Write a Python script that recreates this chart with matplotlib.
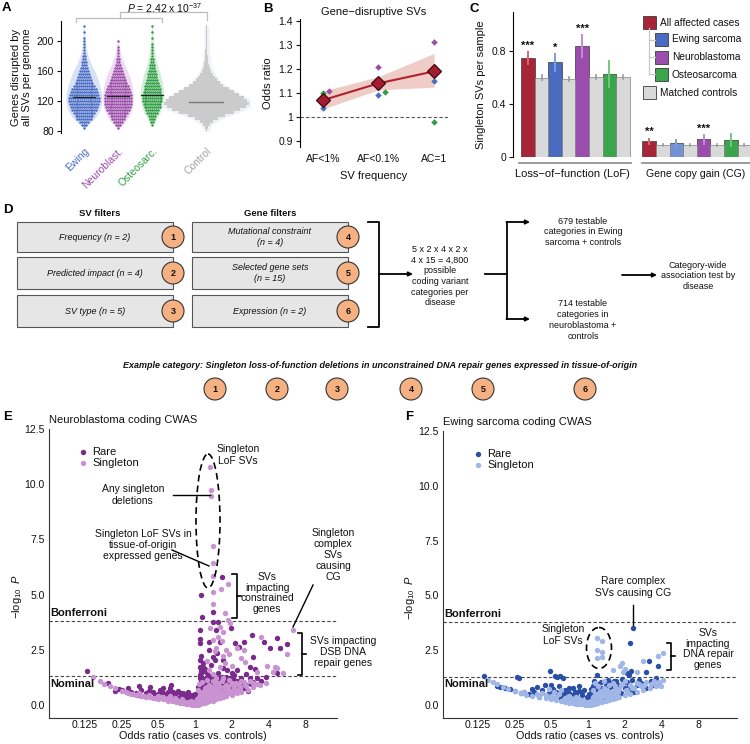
import numpy as np
import matplotlib
matplotlib.use('Agg')
import matplotlib.pyplot as plt
from matplotlib.patches import Rectangle, Circle, Ellipse

plt.rcParams['font.family'] = ['Liberation Sans', 'DejaVu Sans']
plt.rcParams['mathtext.fontset'] = 'custom'
plt.rcParams['mathtext.rm'] = 'Liberation Sans'
plt.rcParams['mathtext.it'] = 'Liberation Sans:italic'
plt.rcParams['mathtext.bf'] = 'Liberation Sans:bold'
plt.rcParams['axes.linewidth'] = 0.8

# ---------------- DATA ----------------
# Panel A: genes disrupted per genome (binned counts of samples, bins of 4)
a_groups = ['Ewing', 'Neuroblast.', 'Osteosarc.', 'Control']
a_medians = [125, 126, 128, 118]
ewing_bin_start = 84
ewing_counts = [1, 3, 5, 8, 10, 12, 14, 15, 16, 17, 17, 16, 15, 14, 12, 10, 8, 7, 6, 5,
                4, 3, 3, 2, 2, 1, 1, 1, 1, 1, 1, 0, 1, 0, 1]
nb_bin_start = 84
nb_counts = [1, 3, 5, 7, 9, 11, 13, 14, 15, 15, 15, 15, 14, 13, 12, 10, 9, 7, 6, 5,
             4, 3, 2, 2, 1, 1, 1, 1, 0, 1]
os_bin_start = 88
os_counts = [1, 2, 3, 4, 6, 7, 9, 10, 11, 11, 11, 10, 9, 8, 7, 6, 5, 5, 4, 3, 3, 2,
             2, 1, 1, 1, 1, 1, 0, 1, 0, 1, 0, 1]
ctrl_bin_start = 80
ctrl_halfwidth = [0.02, 0.05, 0.1, 0.2, 0.35, 0.55, 0.8, 1.0, 1.15, 1.25, 1.2, 1.1, 0.95,
                  0.8, 0.65, 0.5, 0.4, 0.3, 0.24, 0.18, 0.14, 0.1, 0.08, 0.06, 0.05, 0.04,
                  0.03, 0.03, 0.02, 0.02, 0.02, 0.015, 0.015, 0.01, 0.01, 0.01]
# violin outlines (value, half-width)
ewing_vy = [84, 90, 100, 110, 120, 128, 140, 150, 160, 170, 180, 190, 200, 210, 220]
ewing_vw = [0.02, 0.17, 0.38, 0.49, 0.53, 0.53, 0.47, 0.40, 0.32, 0.20, 0.12, 0.07, 0.04, 0.02, 0.01]
nb_vy = [84, 90, 100, 110, 120, 128, 140, 150, 160, 170, 180, 190, 200]
nb_vw = [0.03, 0.17, 0.33, 0.42, 0.45, 0.45, 0.42, 0.36, 0.28, 0.18, 0.10, 0.05, 0.02]
os_vy = [88, 95, 105, 115, 125, 135, 145, 155, 165, 175, 185, 195, 205, 215, 222]
os_vw = [0.03, 0.12, 0.24, 0.32, 0.35, 0.34, 0.30, 0.25, 0.18, 0.12, 0.08, 0.05, 0.03, 0.02, 0.01]

# Panel B
b_labels = ['AF<1%', 'AF<0.1%', 'AC=1']
b_all = [1.07, 1.14, 1.19]
b_lo = [1.033, 1.113, 1.124]
b_hi = [1.108, 1.168, 1.265]
b_ewing = [1.036, 1.091, 1.148]
b_nb = [1.108, 1.207, 1.312]
b_os = [1.100, 1.102, 0.979]

# Panel C
c_groups = ['All affected cases', 'Ewing sarcoma', 'Neuroblastoma', 'Osteosarcoma']
c_lof_case = [0.750, 0.717, 0.835, 0.629]
c_lof_case_lo = [0.704, 0.652, 0.755, 0.528]
c_lof_case_hi = [0.792, 0.775, 0.918, 0.725]
c_lof_ctrl = [0.599, 0.591, 0.604, 0.604]
c_lof_ctrl_err = [0.018, 0.015, 0.015, 0.018]
c_cg_case = [0.121, 0.106, 0.136, 0.131]
c_cg_case_lo = [0.100, 0.075, 0.100, 0.083]
c_cg_case_hi = [0.138, 0.130, 0.163, 0.176]
c_cg_ctrl = [0.093, 0.088, 0.090, 0.093]
c_cg_ctrl_err = [0.008, 0.008, 0.008, 0.008]
c_lof_stars = ['***', '*', '***', '']
c_cg_stars = ['**', '', '***', '']

# Panel E: neuroblastoma CWAS (odds ratio, -log10 P)
e_rare_or = [1.13, 1.65, 1.41, 1.15, 1.41, 1.55, 1.09, 1.50, 1.97, 1.10, 1.60, 1.30, 1.10, 2.13, 2.50,
             2.92, 4.10, 4.68, 5.65, 5.00, 3.68, 2.30, 3.00, 2.83, 3.10, 4.73, 1.10, 1.17, 1.10, 1.17,
             1.12, 1.25, 1.10, 1.41, 1.51, 1.45, 1.35, 1.69, 1.69, 1.82, 2.00, 2.20, 1.12, 1.13, 1.20,
             1.55, 1.30, 2.10, 2.60, 0.13, 1.12, 1.16, 1.11,
             0.195, 0.28, 0.25, 0.35, 0.43, 0.52, 0.64, 0.62, 0.45, 0.40, 0.50, 0.55, 0.58, 0.68, 0.70,
             0.75, 0.78, 0.82, 0.85, 0.88, 0.90, 0.92, 0.95, 1.05, 1.08, 1.10, 1.12, 1.15, 1.18, 1.20,
             1.22, 1.25, 1.28, 1.30, 1.32, 1.35, 1.38, 1.40, 1.45, 1.50, 1.55, 1.60, 1.65, 1.70, 1.75,
             1.80, 1.90, 2.00, 2.10, 2.20, 2.40, 2.60, 2.80, 3.00, 3.50, 0.30, 0.33, 0.24, 0.22, 0.36,
             0.60, 0.72, 0.80, 0.86, 0.97, 1.02, 1.04, 1.06, 1.10, 1.13, 1.16, 1.20, 1.24, 1.26, 1.30,
             1.34, 1.42, 1.48, 1.52, 1.58, 1.62, 1.68, 1.72, 1.85, 1.95, 2.05, 2.30, 2.50, 2.70, 1.12,
             1.15, 1.25, 1.35, 1.38, 1.55, 1.65, 1.95, 2.20, 0.47, 0.65, 0.90,
             1.05, 1.10, 1.15, 1.20, 1.30, 1.40, 1.45, 1.50, 1.60, 1.70, 1.80, 2.00, 2.20, 2.40, 2.90,
             3.20, 3.80, 0.35, 0.42, 0.55, 0.66, 0.75, 0.80, 0.88, 0.95, 1.00, 1.00, 1.08, 1.12, 1.18]
e_rare_p = [4.98, 5.78, 4.22, 3.97, 3.76, 3.74, 3.39, 3.39, 3.50, 2.97, 2.87, 2.85, 2.80, 2.80, 2.85,
            3.17, 2.56, 3.05, 2.75, 2.56, 2.85, 2.61, 2.18, 1.73, 1.61, 1.43, 2.04, 1.89, 1.73, 1.73,
            1.59, 1.43, 1.36, 2.19, 2.34, 2.04, 1.80, 2.04, 1.66, 1.59, 1.43, 1.59, 2.20, 1.50, 1.62,
            1.45, 2.50, 1.35, 1.40, 1.52, 1.65, 1.55, 1.45,
            0.98, 0.75, 0.68, 0.86, 0.83, 0.68, 0.91, 0.75, 0.60, 0.55, 0.50, 0.55, 0.45, 0.50, 0.35,
            0.30, 0.45, 0.25, 0.35, 0.20, 0.40, 0.15, 0.25, 0.30, 0.60, 0.90, 1.10, 0.75, 1.00, 0.45,
            1.20, 0.60, 0.90, 1.15, 0.70, 1.00, 0.50, 0.85, 1.20, 1.05, 0.80, 1.20, 0.95, 1.10, 0.75,
            1.25, 1.00, 0.85, 1.15, 0.95, 1.20, 0.90, 1.20, 1.05, 1.10, 0.60, 0.52, 0.72, 0.62, 0.70,
            0.60, 0.62, 0.55, 0.50, 0.10, 0.05, 0.15, 0.45, 0.35, 0.55, 0.40, 0.80, 0.95, 0.30, 0.50,
            0.45, 0.60, 0.70, 0.55, 0.65, 0.85, 0.60, 0.90, 0.70, 0.80, 0.60, 0.70, 0.75, 0.65, 1.25,
            1.20, 1.10, 1.25, 1.05, 1.15, 1.25, 1.20, 1.10, 0.45, 0.40, 0.30,
            0.80, 1.20, 0.90, 1.10, 1.30, 1.00, 0.65, 0.90, 0.60, 0.80, 1.05, 1.20, 0.80, 1.00, 0.95,
            1.20, 1.25, 0.45, 0.65, 0.75, 0.60, 0.55, 0.35, 0.60, 0.45, 0.25, 0.50, 0.25, 0.65, 0.55]
e_sing_or = [1.33, 1.36, 1.36, 1.40, 1.41, 1.40, 1.88, 1.41, 1.62, 1.41, 1.76, 1.88, 1.92, 1.33, 1.69,
             1.40, 1.65, 2.50, 3.50, 6.40, 5.65, 2.40, 2.57, 3.87, 4.53, 4.70, 1.60, 1.50, 1.45, 1.80,
             2.20, 5.30, 4.40, 1.60, 1.55, 1.25, 1.30, 1.40, 1.75, 2.00, 1.90, 1.70, 3.20,
             0.147, 0.165, 0.18, 0.20, 0.22, 0.25, 0.28, 0.30, 0.33, 0.36, 0.40, 0.43, 0.47, 0.50, 0.55,
             0.60, 0.65, 0.70, 0.75, 0.80, 0.85, 0.90, 0.95, 1.00, 1.05, 1.10, 1.15, 1.20, 1.25, 1.30,
             1.40, 1.50, 1.60, 1.70, 1.80, 2.00, 2.20, 2.40, 2.70, 3.00, 3.40, 3.80,
             0.35, 0.42, 0.50, 0.55, 0.60, 0.70, 0.80, 0.85, 0.90, 0.95, 1.05, 1.10, 1.15, 1.20, 1.25,
             1.30, 1.35, 1.40, 1.45, 1.50, 1.55, 1.60, 1.70, 1.80, 1.90, 2.00, 2.10, 2.30, 2.50, 2.80,
             1.20, 1.10, 1.30, 1.40, 1.25, 0.75, 0.65, 0.45, 0.38, 0.27, 0.31, 0.97, 1.02, 1.07, 1.12,
             1.18, 1.22, 1.28, 1.33, 1.37, 1.45, 1.52, 1.58, 1.65, 1.75, 1.85, 1.95, 2.10, 2.25, 2.60,
             3.20, 1.15, 1.20, 1.35, 1.45, 1.55, 1.65, 1.50, 1.70, 1.90, 2.40, 1.05, 1.08, 1.15, 1.25,
             0.50, 0.58, 0.62, 0.68, 0.72, 0.78, 0.82, 0.88, 0.92, 0.98, 1.03, 1.08, 1.12, 1.18, 1.22,
             1.28, 1.32, 1.38, 1.42, 1.48, 1.58, 1.62, 1.72, 1.78, 1.88, 2.05, 2.15, 2.35, 2.55, 3.00]
e_sing_p = [10.8, 9.73, 9.46, 7.22, 6.41, 5.86, 5.46, 5.13, 5.25, 4.56, 4.15, 3.85, 3.70, 3.47, 3.30,
            2.95, 2.90, 2.50, 3.10, 3.39, 2.31, 2.11, 1.96, 1.75, 1.72, 1.68, 1.73, 2.60, 2.45, 2.50,
            2.60, 1.45, 1.50, 3.55, 3.10, 2.00, 1.60, 1.40, 1.90, 1.75, 2.30, 2.20, 1.50,
            1.25, 1.10, 0.95, 0.85, 0.75, 0.62, 0.55, 0.50, 0.45, 0.42, 0.38, 0.35, 0.30, 0.28, 0.25,
            0.20, 0.16, 0.12, 0.09, 0.07, 0.05, 0.03, 0.01, 0.00, 0.02, 0.04, 0.08, 0.10, 0.13, 0.16,
            0.20, 0.25, 0.30, 0.35, 0.40, 0.45, 0.55, 0.60, 0.70, 0.80, 0.90, 1.00,
            0.55, 0.45, 0.40, 0.35, 0.32, 0.25, 0.20, 0.15, 0.12, 0.10, 0.12, 0.20, 0.30, 0.25, 0.40,
            0.50, 0.35, 0.60, 0.45, 0.70, 0.55, 0.80, 0.60, 0.90, 0.70, 1.00, 0.80, 0.90, 1.05, 1.10,
            0.60, 0.50, 0.90, 1.10, 0.80, 0.15, 0.22, 0.33, 0.40, 0.58, 0.48, 0.05, 0.08, 0.15, 0.10,
            0.18, 0.20, 0.25, 0.28, 0.22, 0.30, 0.35, 0.40, 0.45, 0.50, 0.55, 0.60, 0.65, 0.70, 0.85,
            0.95, 0.60, 0.75, 0.70, 0.90, 1.00, 1.10, 1.20, 1.20, 1.15, 1.10, 0.70, 0.95, 1.05, 1.15,
            0.33, 0.28, 0.40, 0.30, 0.20, 0.25, 0.12, 0.08, 0.18, 0.15, 0.25, 0.35, 0.45, 0.40, 0.55,
            0.65, 0.60, 0.80, 0.75, 1.00, 0.75, 0.60, 0.80, 0.70, 0.85, 0.90, 1.00, 0.75, 0.90, 1.00]

# Panel F: Ewing sarcoma CWAS
f_rare_or = [2.35, 2.21, 3.77, 3.18, 3.00, 2.24, 1.18, 0.49, 0.54, 0.59, 0.26, 0.27, 0.139, 2.10, 2.15,
             0.18, 0.19, 0.21, 0.23, 0.38, 0.30, 0.33, 0.42, 0.45, 0.50, 0.52, 0.55, 0.58, 0.62, 0.65,
             0.70, 0.72, 0.75, 0.80, 0.82, 0.85, 0.88, 0.90, 0.95, 1.00, 1.05, 1.08, 1.10, 1.12, 1.15,
             1.20, 1.22, 1.25, 1.28, 1.30, 1.35, 1.40, 1.45, 1.50, 1.55, 1.60, 1.70, 1.75, 1.80, 1.90,
             2.00, 2.10, 2.20, 2.30, 2.50, 2.70, 3.00, 3.30, 3.60, 3.80, 0.25, 0.28, 0.36, 0.48, 0.60,
             0.68, 0.78, 0.92, 1.02, 1.18, 1.32, 1.48, 1.65, 1.85, 2.40, 0.40, 0.56, 0.62,
             0.35, 0.44, 0.50, 0.57, 0.64, 0.70, 0.76, 0.84, 0.90, 0.98, 1.05, 1.10, 1.15, 1.25, 1.38,
             1.42, 1.52, 1.62, 1.72, 1.95, 2.15, 2.60, 2.90, 3.40]
f_rare_p = [3.50, 2.84, 1.77, 1.99, 1.51, 1.55, 1.36, 1.54, 1.33, 1.33, 1.30, 1.25, 1.31, 1.45, 1.38,
            0.86, 0.82, 0.78, 0.72, 0.83, 0.60, 0.50, 0.70, 0.45, 0.90, 0.75, 0.60, 0.85, 0.45, 0.70,
            0.55, 0.35, 0.80, 0.50, 0.30, 0.65, 0.20, 0.45, 0.15, 0.10, 0.30, 0.55, 0.85, 1.10, 0.70,
            0.95, 0.40, 0.60, 1.05, 0.80, 0.50, 0.90, 1.15, 0.70, 1.00, 0.85, 1.10, 0.60, 0.90, 1.20,
            0.80, 1.05, 0.70, 1.15, 0.90, 1.00, 0.80, 1.10, 1.25, 0.95, 0.65, 0.55, 0.60, 0.55, 0.30,
            0.25, 0.60, 0.70, 0.50, 0.25, 0.35, 0.45, 0.50, 0.55, 0.60, 0.35, 1.30, 1.25,
            0.75, 0.90, 0.65, 0.40, 0.55, 0.80, 0.45, 0.85, 0.60, 0.35, 0.75, 0.45, 0.95, 0.80, 0.65,
            1.00, 0.85, 1.10, 0.75, 1.00, 0.90, 1.15, 0.95, 0.90]
f_sing_or = [1.18, 1.31, 1.18, 1.31, 1.18, 1.30, 3.77, 4.10, 2.84, 1.89, 1.83, 1.60, 2.00, 2.50, 1.95,
             0.152, 0.165, 0.18, 0.20, 0.22, 0.25, 0.28, 0.31, 0.35, 0.40, 0.45, 0.50, 0.55, 0.60, 0.65,
             0.70, 0.75, 0.80, 0.85, 0.90, 0.95, 1.00, 1.05, 1.10, 1.15, 1.20, 1.30, 1.40, 1.50, 1.60,
             1.70, 1.80, 2.00, 2.20, 2.50, 2.80, 3.20, 3.60, 4.00, 4.10,
             0.30, 0.38, 0.42, 0.50, 0.55, 0.58, 0.65, 0.70, 0.75, 0.80, 0.85, 0.90, 0.95, 1.05, 1.10,
             1.15, 1.20, 1.25, 1.30, 1.35, 1.40, 1.45, 1.50, 1.55, 1.60, 1.65, 1.70, 1.80, 1.90, 2.00,
             2.10, 2.30, 2.50, 2.70, 3.00, 3.30, 3.50, 1.10, 1.20, 1.35, 1.15, 0.53, 0.48, 0.60,
             0.45, 0.52, 0.62, 0.68, 0.72, 0.78, 0.83, 0.88, 0.93, 1.02, 1.08, 1.12, 1.18, 1.22, 1.28,
             1.32, 1.38, 1.42, 1.48, 1.58, 1.68, 1.75, 1.85, 2.05, 2.20, 2.40, 2.60, 2.90, 3.40, 3.80]
f_sing_p = [3.06, 2.91, 2.49, 2.42, 2.14, 2.17, 2.26, 2.37, 1.99, 1.94, 1.80, 1.60, 1.65, 1.50, 1.50,
            1.16, 1.05, 0.95, 0.82, 0.72, 0.62, 0.55, 0.48, 0.42, 0.36, 0.30, 0.26, 0.22, 0.18, 0.14,
            0.11, 0.08, 0.06, 0.04, 0.03, 0.01, 0.00, 0.02, 0.04, 0.07, 0.10, 0.14, 0.18, 0.22, 0.27,
            0.32, 0.37, 0.45, 0.52, 0.60, 0.68, 0.78, 0.85, 0.88, 1.15,
            0.60, 0.50, 0.55, 0.40, 0.35, 0.50, 0.30, 0.40, 0.25, 0.35, 0.20, 0.25, 0.15, 0.20, 0.35,
            0.50, 0.30, 0.65, 0.45, 0.80, 0.55, 0.35, 0.90, 0.60, 1.00, 0.70, 0.50, 0.75, 0.95, 1.10,
            0.65, 0.80, 1.00, 0.85, 1.05, 0.95, 1.10, 0.70, 0.85, 1.10, 1.00, 0.60, 0.75, 0.70,
            0.45, 0.30, 0.25, 0.20, 0.30, 0.15, 0.28, 0.12, 0.20, 0.15, 0.25, 0.20, 0.40, 0.50, 0.30,
            0.60, 0.40, 0.70, 0.50, 0.45, 0.85, 0.60, 0.90, 0.70, 0.90, 0.80, 0.95, 0.90, 1.00, 1.05]

bonferroni = 3.8
nominal = 1.3

# ---------------- FIGURE ----------------
W, H = 750, 744
fig = plt.figure(figsize=(7.5, 7.44), dpi=100)


def px_axes(l, t, r, b, **kw):
    return fig.add_axes([l / W, 1 - b / H, (r - l) / W, (b - t) / H], **kw)


TXT = '#111111'
FS = 7.5

# ---------- Panel A ----------
axA = px_axes(61, 21, 250, 133)
a_pos = [0, 1, 2, 3.6]
a_col = ['#4a6cc4', '#9a4ea8', '#2e9e44', '#b0b0b0']
a_fill = ['#d9e2f5', '#eedaf1', '#d5ecd8', '#eef1f6']
viol = [(ewing_vy, ewing_vw), (nb_vy, nb_vw), (os_vy, os_vw)]
counts = [(ewing_bin_start, ewing_counts), (nb_bin_start, nb_counts), (os_bin_start, os_counts)]
for i in range(3):
    vy, vw = viol[i]
    vy = np.array(vy, float); vw = np.array(vw)
    axA.fill_betweenx(vy, a_pos[i] - vw, a_pos[i] + vw, color=a_fill[i], lw=0, zorder=1)
    start, cnt = counts[i]
    xs, ys = [], []
    for k, n in enumerate(cnt):
        yv = start + 4 * k
        for j in range(n):
            xs.append(a_pos[i] + (j - (n - 1) / 2) * 0.055)
            ys.append(yv)
    axA.scatter(xs, ys, s=3.2, color=a_col[i], lw=0, zorder=2)
    axA.plot([a_pos[i] - 0.33, a_pos[i] + 0.33], [a_medians[i]] * 2, color='#222', lw=0.9, zorder=3)
# control
cy = ctrl_bin_start + 4 * np.arange(len(ctrl_halfwidth))
chw = np.array(ctrl_halfwidth)
axA.fill_betweenx(cy, a_pos[3] - chw * 1.06 - 0.06, a_pos[3] + chw * 1.06 + 0.06,
                  color=a_fill[3], lw=0, zorder=1)
axA.barh(cy, 2 * chw, left=a_pos[3] - chw, height=4.0, color='#cbcbcb', lw=0, zorder=2)
axA.plot([a_pos[3] - 0.5, a_pos[3] + 0.5], [a_medians[3]] * 2, color='#7a7a7a', lw=1.0, zorder=3)
axA.set_xlim(-0.676, 4.88)
axA.set_ylim(77.3, 226.7)
for s in ['top', 'right', 'bottom']:
    axA.spines[s].set_visible(False)
axA.set_yticks([80, 120, 160, 200])
axA.tick_params(axis='y', labelsize=FS, length=3, width=0.8, pad=2, colors=TXT)
axA.set_xticks(a_pos)
axA.set_xticklabels(a_groups, rotation=45, ha='right', rotation_mode='anchor', fontsize=FS)
for lab, c in zip(axA.get_xticklabels(), ['#4a6cc4', '#9a4ea8', '#2e9e44', '#a0a0a0']):
    lab.set_color(c)
axA.tick_params(axis='x', length=0, pad=9)
axA.set_ylabel('Genes disrupted by\nall SVs per genome', fontsize=8, color=TXT, labelpad=3)
br = '#bdbdbd'
axA.plot([-0.24, -0.24, 2.29, 2.29], [225.7, 230.7, 230.7, 225.7], color=br, lw=0.9, clip_on=False)
axA.plot([1.06, 1.06, 3.62, 3.62], [230.7, 238.7, 238.7, 228.0], color=br, lw=0.9, clip_on=False)
axA.text(2.38, 244.5, r'$\it{P}$ = 2.42 x 10$^{-37}$', ha='center', va='center', fontsize=7.5,
         color=TXT, clip_on=False)

# ---------- Panel B ----------
axB = px_axes(300, 19, 448, 147)
bx = np.arange(3)
axB.fill_between(bx, b_lo, b_hi, color='#efcdc6', lw=0, zorder=1)
axB.axhline(1, color='#555', lw=0.8, ls=(0, (3, 2)), zorder=1)
dodge_nb = [0.12, 0, 0]
dodge_os = [0.0, 0.11, 0]
axB.plot(bx, b_ewing, 'D', ms=3.3, color='#4a6cc4', mew=0, zorder=3)
axB.plot(bx + np.array(dodge_nb), b_nb, 'D', ms=3.3, color='#9a4ea8', mew=0, zorder=3)
axB.plot(bx + np.array(dodge_os), b_os, 'D', ms=3.3, color='#2e9e44', mew=0, zorder=3)
axB.plot(bx, b_all, '-', color='#b0212f', lw=1.5, zorder=4)
axB.plot(bx, b_all, 'D', ms=7, color='#a51c30', mec='#3a0a10', mew=0.9, zorder=5)
axB.set_xlim(-0.41, 2.25)
axB.set_ylim(0.875, 1.408)
axB.set_yticks([0.9, 1.0, 1.1, 1.2, 1.3, 1.4])
axB.set_yticklabels(['0.9', '1', '1.1', '1.2', '1.3', '1.4'])
axB.set_xticks(bx)
axB.set_xticklabels(b_labels)
axB.tick_params(axis='x', length=0, labelsize=FS, pad=5, colors=TXT)
axB.tick_params(axis='y', labelsize=FS, length=3, width=0.8, pad=2, colors=TXT)
for s in ['top', 'right', 'bottom']:
    axB.spines[s].set_visible(False)
axB.set_ylabel('Odds ratio', fontsize=8, color=TXT, labelpad=4)
axB.set_xlabel('SV frequency', fontsize=8, color=TXT, labelpad=5)
axB.set_title('Gene\u2212disruptive SVs', fontsize=8, color=TXT, pad=3)

# ---------- Panel C ----------
c_col = ['#a82538', '#4a6cc0', '#9b4dae', '#3aa54a']
c_col_cg = ['#a82538', '#7391d6', '#9b4dae', '#3aa54a']
c_err = ['#cf6a78', '#7f9be0', '#c58bd3', '#72c77f']
top_val = (157 - 12) / 132.5


def draw_c(ax, case, lo, hi, ctrl, cerr, stars, cols):
    gx = np.arange(4)
    ax.bar(gx - 0.25, case, width=0.5, color=cols, edgecolor='#3a3a3a', lw=0.5, zorder=2)
    ax.bar(gx + 0.25, ctrl, width=0.5, color='#d9d9d9', edgecolor='#808080', lw=0.5, zorder=2)
    for i in range(4):
        ax.plot([gx[i] - 0.25] * 2, [lo[i], hi[i]], color=c_err[i], lw=1.4, zorder=3)
        ax.plot([gx[i] + 0.25] * 2, [ctrl[i] - cerr[i], ctrl[i] + cerr[i]], color='#9a9a9a',
                lw=1.2, zorder=3)
        if stars[i]:
            ax.text(gx[i] - 0.25, hi[i] + 0.012, stars[i], ha='center', va='bottom',
                    fontsize=8, color=TXT, fontweight='bold')
    ax.set_ylim(0, top_val)
    for s in ['top', 'right', 'bottom']:
        ax.spines[s].set_visible(False)
    ax.set_xticks([])


axC1 = px_axes(513, 12, 631, 157)
draw_c(axC1, c_lof_case, c_lof_case_lo, c_lof_case_hi, c_lof_ctrl, c_lof_ctrl_err, c_lof_stars, c_col)
axC1.set_xlim(-0.806, 3.55)
axC1.set_yticks([0, 0.4, 0.8])
axC1.set_yticklabels(['0', '0.4', '0.8'])
axC1.tick_params(axis='y', labelsize=FS, length=3, width=0.8, pad=2, colors=TXT)
axC1.set_ylabel('Singleton SVs per sample', fontsize=8, color=TXT, labelpad=4)
axC1.plot([-0.58, 3.55], [-0.045, -0.045], color='#8a8a8a', lw=1.2, clip_on=False)
axC1.text(1.37, -0.13, 'Loss\u2212of\u2212function (LoF)', ha='center', va='center', fontsize=8,
          color=TXT, clip_on=False)

axC2 = px_axes(640, 12, 751, 157)
draw_c(axC2, c_cg_case, c_cg_case_lo, c_cg_case_hi, c_cg_ctrl, c_cg_ctrl_err, c_cg_stars, c_col_cg)
axC2.set_xlim(-0.583, 3.49)
axC2.spines['left'].set_visible(False)
axC2.set_yticks([])
axC2.plot([-0.51, 3.49], [-0.045, -0.045], color='#8a8a8a', lw=1.2, clip_on=False)
axC2.text(1.44, -0.13, 'Gene copy gain (CG)', ha='center', va='center', fontsize=7.6,
          color=TXT, clip_on=False)

# ---------- Panels E & F ----------


def volcano(ax, rare_or, rare_p, sing_or, sing_p, c_rare, c_sing, xl, yl, title):
    ax.set_xscale('log', base=2)
    ax.scatter(rare_or, rare_p, s=15, color=c_rare, lw=0, zorder=3)
    ax.scatter(sing_or, sing_p, s=15, color=c_sing, lw=0, zorder=3)
    ax.set_xlim(*xl)
    ax.set_ylim(*yl)
    ax.axhline(bonferroni, color='#444', lw=0.8, ls=(0, (3, 2)), zorder=1)
    ax.axhline(nominal, color='#444', lw=0.8, ls=(0, (3, 2)), zorder=1)
    ticks = [0.125, 0.25, 0.5, 1, 2, 4, 8]
    ax.set_xticks(ticks)
    ax.set_xticklabels(['0.125', '0.25', '0.5', '1', '2', '4', '8'])
    ax.xaxis.set_minor_locator(matplotlib.ticker.NullLocator())
    ax.set_yticks([0, 2.5, 5, 7.5, 10, 12.5])
    ax.set_yticklabels(['0.0', '2.5', '5.0', '7.5', '10.0', '12.5'])
    ax.tick_params(labelsize=FS, length=0, width=0.8, colors=TXT)
    ax.tick_params(axis='x', pad=1.5)
    ax.tick_params(axis='y', pad=3)
    for s in ['top', 'right']:
        ax.spines[s].set_visible(False)
    for s in ['left', 'bottom']:
        ax.spines[s].set_color('#333')
    ax.text(0.004, bonferroni + 0.12, 'Bonferroni', transform=ax.get_yaxis_transform(),
            fontsize=8, fontweight='bold', va='bottom', ha='left', color=TXT)
    ax.text(0.004, nominal - 0.12, 'Nominal', transform=ax.get_yaxis_transform(),
            fontsize=8, fontweight='bold', va='top', ha='left', color=TXT)
    ax.scatter([0.118], [0.92], s=15, color=c_rare, lw=0, transform=ax.transAxes, clip_on=False)
    ax.scatter([0.118], [0.882], s=15, color=c_sing, lw=0, transform=ax.transAxes, clip_on=False)
    ax.text(0.15, 0.92, 'Rare', transform=ax.transAxes, fontsize=8, va='center', color=TXT)
    ax.text(0.15, 0.882, 'Singleton', transform=ax.transAxes, fontsize=8, va='center', color=TXT)
    ax.set_xlabel('Odds ratio (cases vs. controls)', fontsize=7.8, color=TXT, labelpad=0.5)
    ax.set_ylabel(r'$-\log_{10}$ $\it{P}$', fontsize=8, color=TXT)
    ax.yaxis.set_label_coords(-0.088, 0.42)
    ax.set_title(title, fontsize=8, color=TXT, loc='left', pad=4)


axE = px_axes(49, 429, 337, 718)
volcano(axE, e_rare_or, e_rare_p, e_sing_or, e_sing_p, '#7a2a8c', '#c993d2',
        (2 ** ((49 - 195) / 36.7), 2 ** ((337 - 195) / 36.7)), (-0.59, 12.5),
        'Neuroblastoma coding CWAS')
axF = px_axes(443, 431, 737, 718)
volcano(axF, f_rare_or, f_rare_p, f_sing_or, f_sing_p, '#2b4ea6', '#9fb6e6',
        (2 ** ((443 - 588) / 36.7), 2 ** ((737 - 588) / 36.7)), (-0.59, 12.4),
        'Ewing sarcoma coding CWAS')

# ---------- Overlay (panel D, legend of C, annotations, letters) ----------
ov = fig.add_axes([0, 0, 1, 1], zorder=10)
ov.set_xlim(0, W)
ov.set_ylim(H, 0)
ov.axis('off')
ov.patch.set_alpha(0)

# panel letters
for lt, x, y in [('A', 2, 2), ('B', 263, 3), ('C', 470, 3), ('D', 3, 204), ('E', 3, 411), ('F', 405, 411)]:
    ov.text(x, y, lt, fontsize=9.5, fontweight='bold', va='top', ha='left', color='k')

# legend of C
ov.plot([649, 649], [28, 74], color='#c8c8c8', lw=0.9)
for yy in [40, 57, 74]:
    ov.plot([649, 655], [yy, yy], color='#c8c8c8', lw=0.9)
leg = [(643, 16, c_col[0], c_groups[0]), (655, 33, c_col[1], c_groups[1]),
       (655, 51, c_col[2], c_groups[2]), (655, 68, c_col[3], c_groups[3]),
       (643, 86, '#d9d9d9', 'Matched controls')]
for x, y, c, lab in leg:
    ov.add_patch(Rectangle((x, y), 13, 12.5, facecolor=c, edgecolor='#3a3a3a', lw=0.6))
    ov.text(x + 17, y + 6.5, lab, fontsize=7.3, va='center', ha='left', color=TXT)

# Panel D
box_fc = '#e6e6e6'
circ_fc = '#f6b183'
ov.text(100, 213, 'SV filters', fontsize=6.8, fontweight='bold', ha='center', va='center', color=TXT)
ov.text(270, 213, 'Gene filters', fontsize=6.8, fontweight='bold', ha='center', va='center', color=TXT)
rows = [(222, 30), (257, 32), (295, 32)]
sv_txt = ['Frequency (n = 2)', 'Predicted impact (n = 4)', 'SV type (n = 5)']
gene_txt = ['Mutational constraint\n(n = 4)', 'Selected gene sets\n(n = 15)', 'Expression (n = 2)']
for k, (ty, hh) in enumerate(rows):
    for x0, txt, num in [(17, sv_txt[k], k + 1), (192, gene_txt[k], k + 4)]:
        ov.add_patch(Rectangle((x0, ty), 156, hh, facecolor=box_fc, edgecolor='#555', lw=0.8))
        ov.text(x0 + 78, ty + hh / 2, txt, fontsize=6.5, style='italic', ha='center', va='center',
                color=TXT, linespacing=1.3)
        cxy = (x0 + 156, ty + hh / 2)
        ov.add_patch(Circle(cxy, 11, facecolor=circ_fc, edgecolor='#333', lw=0.8, zorder=5))
        ov.text(cxy[0], cxy[1], str(num), fontsize=6.5, fontweight='bold', ha='center',
                va='center', zorder=6, color=TXT)
lwD = 1.3
ov.plot([368, 379, 379, 368], [222, 222, 327, 327], color='k', lw=lwD)
aprops = dict(arrowstyle='-|>', lw=lwD, color='k', mutation_scale=6, shrinkA=0, shrinkB=0)
ov.annotate('', xy=(413, 274), xytext=(379, 274), arrowprops=aprops)
ov.text(440, 276, '5 x 2 x 4 x 2 x\n4 x 15 = 4,800\npossible\ncoding variant\ncategories per\ndisease',
        fontsize=6.5, ha='center', va='center', linespacing=1.25, color=TXT)
ov.plot([485, 507], [274, 274], color='k', lw=lwD)
ov.plot([507, 507], [222, 319], color='k', lw=lwD)
ov.annotate('', xy=(530, 222), xytext=(506.4, 222), arrowprops=aprops)
ov.annotate('', xy=(530, 319), xytext=(506.4, 319), arrowprops=aprops)
ov.text(583, 232, '679 testable\ncategories in Ewing\nsarcoma + controls', fontsize=6.5,
        ha='center', va='center', linespacing=1.25, color=TXT)
ov.text(583, 320, '714 testable\ncategories in\nneuroblastoma +\ncontrols', fontsize=6.5,
        ha='center', va='center', linespacing=1.25, color=TXT)
ov.annotate('', xy=(657, 275), xytext=(622, 275), arrowprops=aprops)
ov.text(698, 276, 'Category-wide\nassociation test by\ndisease', fontsize=6.5,
        ha='center', va='center', linespacing=1.25, color=TXT)
ov.text(380, 366, 'Example category: Singleton loss-of-function deletions in unconstrained DNA '
        'repair genes expressed in tissue-of-origin', fontsize=6.5, fontweight='bold',
        style='italic', ha='center', va='center', color=TXT)
for k, x in enumerate([215, 277, 337, 411, 483, 585]):
    ov.add_patch(Circle((x, 389), 11, facecolor=circ_fc, edgecolor='#333', lw=0.8, zorder=5))
    ov.text(x, 389, str(k + 1), fontsize=6.5, fontweight='bold', ha='center', va='center',
            zorder=6, color=TXT)

# Panel E annotations
AFS = 7.5
ov.add_patch(Ellipse((208, 521), 24, 134, fill=False, ls=(0, (4, 2.5)), lw=1.2, edgecolor='k'))
ov.text(238, 455, 'Singleton\nLoF SVs', fontsize=AFS, ha='center', va='center', linespacing=1.15, color=TXT)
ov.text(133, 495, 'Any singleton\ndeletions', fontsize=AFS, ha='center', va='center', linespacing=1.15, color=TXT)
ov.plot([173, 210], [495, 495], color='k', lw=1)
ov.text(143, 545, 'Singleton LoF SVs in\ntissue-of-origin\nexpressed genes', fontsize=AFS,
        ha='center', va='center', linespacing=1.15, color=TXT)
ov.plot([172, 209], [550, 566], color='k', lw=1)
ov.text(333, 555, 'Singleton\ncomplex\nSVs\ncausing\nCG', fontsize=AFS, ha='center', va='center',
        linespacing=1.1, color=TXT)
ov.plot([313, 293], [585, 627], color='k', lw=1)
ov.text(267, 593, 'SVs\nimpacting\nconstrained\ngenes', fontsize=AFS, ha='center', va='center',
        linespacing=1.1, color=TXT)
ov.plot([232, 237, 237, 232], [574, 574, 618, 618], color='k', lw=1.2)
ov.plot([237, 241], [596, 596], color='k', lw=1.2)
ov.text(343, 652, 'SVs impacting\nDSB DNA\nrepair genes', fontsize=AFS, ha='center', va='center',
        linespacing=1.1, color=TXT)
ov.plot([298, 302, 302, 298], [633, 633, 675, 675], color='k', lw=1.2)
ov.plot([302, 306], [654, 654], color='k', lw=1.2)

# Panel F annotations
ov.text(633, 587, 'Rare complex\nSVs causing CG', fontsize=AFS, ha='center', va='center',
        linespacing=1.15, color=TXT)
ov.plot([633, 633], [605, 625], color='k', lw=1)
ov.text(563, 635, 'Singleton\nLoF SVs', fontsize=AFS, ha='center', va='center', linespacing=1.15, color=TXT)
ov.add_patch(Ellipse((599, 648), 25, 41, fill=False, ls=(0, (4, 2.5)), lw=1.2, edgecolor='k'))
ov.text(708, 649, 'SVs\nimpacting\nDNA repair\ngenes', fontsize=AFS, ha='center', va='center',
        linespacing=1.1, color=TXT)
ov.plot([667, 671, 671, 667], [643, 643, 670, 670], color='k', lw=1.2)
ov.plot([671, 675], [656, 656], color='k', lw=1.2)

fig.savefig('out.png', dpi=100)
